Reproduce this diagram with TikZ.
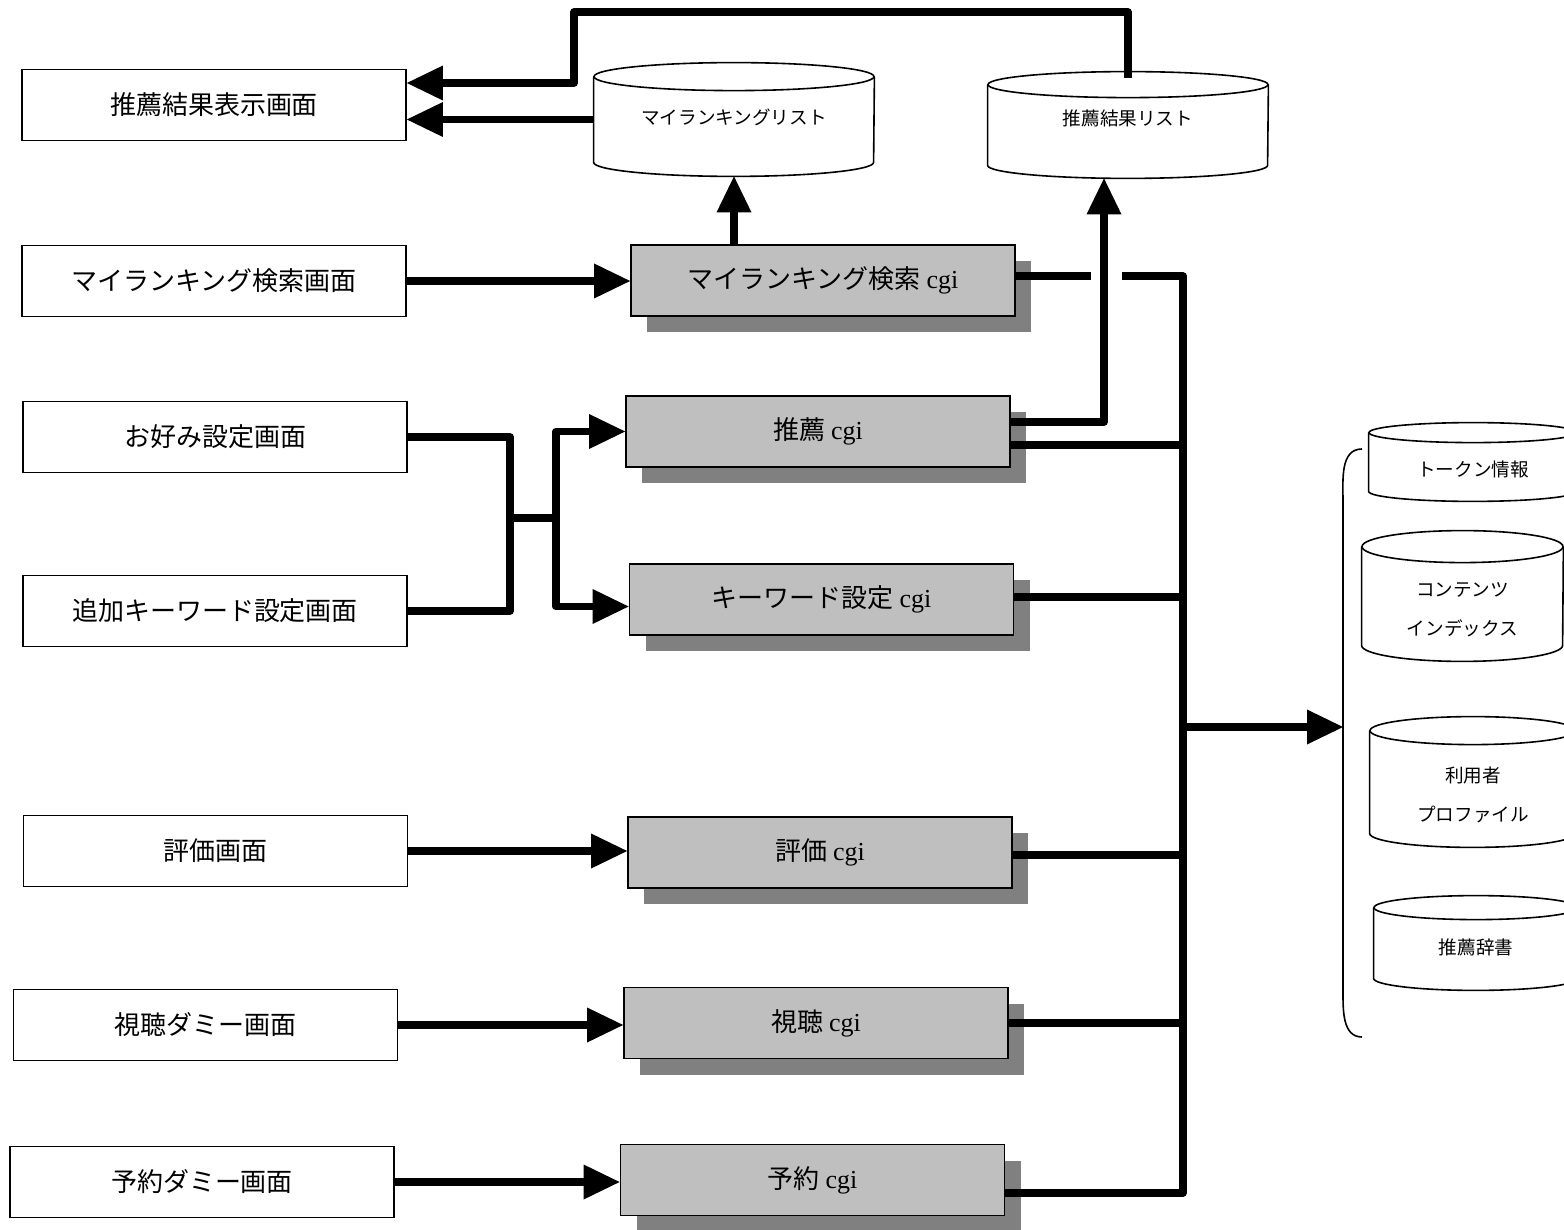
\documentclass[tikz,border=0pt]{standalone}
\usepackage{fontspec}
\setmainfont{Liberation Serif}
\newfontfamily\jp{Noto Sans CJK JP}
\usetikzlibrary{arrows.meta,shadows}

\begin{document}
\begin{tikzpicture}[x=0.5pt, y=-0.5pt,
   screen/.style={rectangle,draw,line width=0.9pt,minimum width=192pt,minimum height=35.5pt,inner sep=0pt,font=\jp\fontsize{13}{15}\selectfont},
   cgi/.style={screen,fill=black!25,drop shadow={shadow xshift=8pt,shadow yshift=-8pt,fill=black!50,opacity=1}},
   store/.style={rectangle,inner sep=0pt},
   storetext/.style={rectangle,inner sep=0pt,align=center,font=\jp\fontsize{9.3}{19.5}\selectfont},
   dbline/.style={draw=black,line width=0.8pt},
   flow/.style={draw=black,line width=3.7pt,line join=round},
   flowarrow/.style={flow,-{Triangle[length=18pt,width=17.5pt,line width=0pt]}}]
   \useasboundingbox (0,0) rectangle (1564,1230);
   \clip (0,0) rectangle (1564,1230);
   % screens
   \foreach \n/\x/\y/\t in {resscr/214/105/推薦結果表示画面, myscr/214/281/マイランキング検索画面, prefscr/215/437/お好み設定画面, kwscr/215/611/追加キーワード設定画面, evalscr/215.5/851/評価画面, viewscr/205.5/1025/視聴ダミー画面, resvscr/202/1182/予約ダミー画面}
      \node[screen] (\n) at (\x,\y) {\t};
   % cgi programs
   \foreach \n/\x/\y/\t in {mycgi/823/280.5/マイランキング検索, reccgi/818/431.5/推薦, kwcgi/821.5/599.5/キーワード設定, evalcgi/820/852.5/評価, viewcgi/816/1023/視聴, resvcgi/812.5/1180/予約}
      \node[cgi] (\n) at (\x,\y) {\t\ {\rmfamily cgi}};
   % data stores; format: {name/x/y/width/height/text shift/text}
   \foreach \n/\x/\y/\w/\h/\dy/\t in {mylist/734/119.5/140pt/56.5pt/1.25pt/マイランキングリスト, reclist/1128/125/140pt/53pt/3.5pt/推薦結果リスト, token/1473/462/104pt/39pt/-3.5pt/トークン情報, contents/1462.5/596/100.5pt/65pt/-6.75pt/{コンテンツ\\インデックス}, user/1473/782/103pt/65pt/-6.25pt/{利用者\\プロファイル}, dict/1476/943/102pt/47pt/-2pt/推薦辞書} {
      \node[store,minimum width=\w,minimum height=\h] (\n) at (\x,\y) {};
      \node[storetext] (\n-text) at ([yshift=\dy]\n.center) {\t};
   }
   \foreach \n/\a/\b in {mylist/70pt/7pt, reclist/70pt/6.5pt, token/52pt/5pt, contents/50.25pt/8pt, user/51.5pt/7pt, dict/51pt/6pt} {
      \draw[dbline] ([yshift=-\b]\n.north) ellipse [x radius=\a, y radius=\b];
      \draw[dbline] ([yshift=-\b]\n.north west) -- ([yshift=\b]\n.south west)
         arc [start angle=180, end angle=360, x radius=\a, y radius=\b] -- ([yshift=-\b]\n.north east);
   }
   % screen -> cgi
   \foreach \s/\c in {myscr/mycgi, evalscr/evalcgi, viewscr/viewcgi, resvscr/resvcgi}
      \draw[flowarrow] (\s) -- (\s -| \c.west);
   \coordinate (join) at (510,518);
   \coordinate (fork) at (556,518);
   \draw[flow] (prefscr) -| (join) |- (kwscr);
   \draw[flow] (join) -- (fork);
   \draw[flowarrow] (fork) |- (reccgi);
   \draw[flowarrow] (fork) |- ([yshift=-3.5pt]kwcgi.west);
   % results back to the result screen
   \coordinate (back) at (574,12);
   \draw[flowarrow] ([yshift=-3pt]reclist.north) |- (back) |- ([yshift=11pt]resscr.east);
   \draw[flowarrow] (mylist) -- (mylist -| resscr.east);
   \draw[flowarrow] (mycgi.north -| mylist) -- (mylist.south);
   \draw[flowarrow] ([yshift=4.75pt]reccgi.east) -| ([xshift=-12pt]reclist.south);
   % bus to the data stores
   \coordinate (gapl) at (1091,276);
   \coordinate (gapr) at (1122,276);
   \coordinate (bustop) at (1183,276);
   \coordinate (busbot) at (1183,1193);
   \coordinate (tap) at (1183,727);
   \coordinate (brace) at (1343,727);
   \draw[flow] ([yshift=2.25pt]mycgi.east) -- (gapl);
   \draw[flow] (gapr) -- (bustop) -- (busbot) -- (busbot -| resvcgi.east);
   \foreach \c/\dy in {reccgi/-6.75pt, kwcgi/1.25pt, evalcgi/-1.25pt, viewcgi/0pt}
      \draw[flow] ([yshift=\dy]\c.east) coordinate (tmp) -- (tmp -| bustop);
   \draw[flowarrow] (tap) -- (brace);
   \draw[dbline] (1362,449) to[out=180,in=90] (1343,502) -- (brace) -- (1343,990) to[out=270,in=180] (1362,1037);
\end{tikzpicture}
\end{document}
